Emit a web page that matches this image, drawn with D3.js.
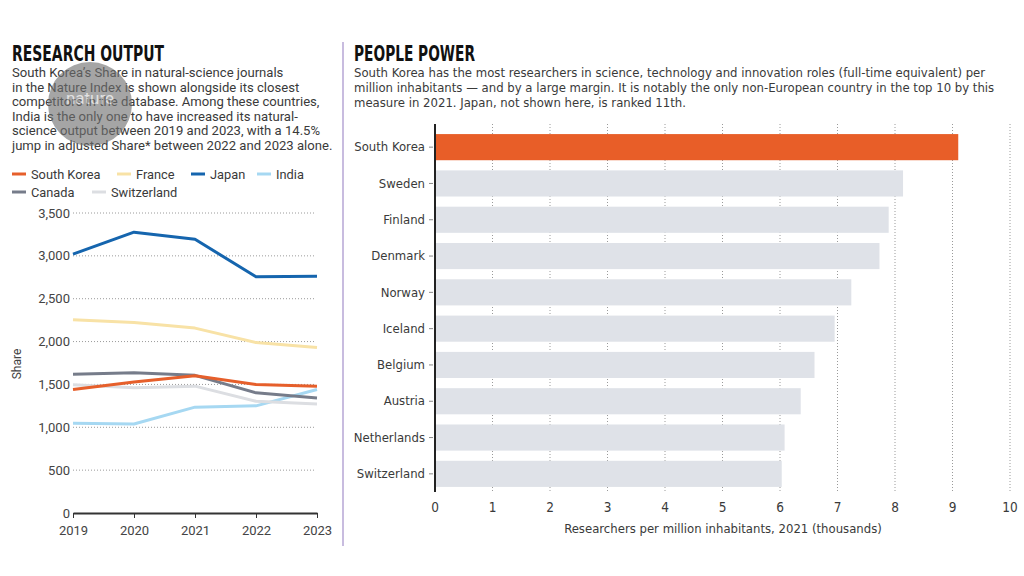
<!DOCTYPE html>
<html lang="en">
<head>
<meta charset="UTF-8">
<title>Research output and people power</title>
<script src="https://d3js.org/d3.v7.min.js"></script>
<style>
  body { margin: 0; background: #fff; }
  svg { display: block; }
  .para { font-family: Roboto, "Noto Sans", sans-serif; font-size: 13.1px; fill: #3a3a3a; }
  .cond { font-family: "Liberation Sans Narrow", "DejaVu Sans Condensed", sans-serif; fill: #3a3a3a; }
  .title { font-family: "Liberation Sans Narrow", "DejaVu Sans Condensed", sans-serif; font-weight: bold; font-size: 22px; fill: #111; }
  .tick-l { font-family: Roboto, "Noto Sans", sans-serif; font-size: 12.5px; fill: #444; }
</style>
</head>
<body>
<svg width="1024" height="576"></svg>
<script>
// ---- data: left panel (Share in natural-science journals) ----
const years = [2019, 2020, 2021, 2022, 2023];
const southKorea  = [1441, 1527, 1602, 1500, 1480];
const france      = [2254, 2222, 2157, 1988, 1930];
const japan       = [3020, 3276, 3193, 2757, 2763];
const india       = [1047, 1039, 1235, 1250, 1440];
const canada      = [1618, 1637, 1606, 1402, 1343];
const switzerland = [1495, 1460, 1480, 1304, 1273];
const shareTicks  = [0, 500, 1000, 1500, 2000, 2500, 3000, 3500];

// ---- data: right panel (researchers per million, thousands) ----
const countries   = ["South Korea", "Sweden", "Finland", "Denmark", "Norway", "Iceland", "Belgium", "Austria", "Netherlands", "Switzerland"];
const researchers = [9.10, 8.14, 7.89, 7.73, 7.24, 6.95, 6.60, 6.36, 6.08, 6.03];
const researcherTicks = [0, 1, 2, 3, 4, 5, 6, 7, 8, 9, 10];

const leftText = [
  "South Korea\u2019s Share in natural-science journals",
  "in the Nature Index is shown alongside its closest",
  "competitors in the database. Among these countries,",
  "India is the only one to have increased its natural-",
  "science output between 2019 and 2023, with a 14.5%",
  "jump in adjusted Share* between 2022 and 2023 alone."
];
const rightText = [
  "South Korea has the most researchers in science, technology and innovation roles (full-time equivalent) per",
  "million inhabitants \u2014 and by a large margin. It is notably the only non-European country in the top 10 by this",
  "measure in 2021. Japan, not shown here, is ranked 11th."
];

const series = [
  {name: "India",       values: india,       color: "#a6d8f2"},
  {name: "Switzerland", values: switzerland, color: "#dcdee2"},
  {name: "France",      values: france,      color: "#f8e2a6"},
  {name: "Canada",      values: canada,      color: "#767c8a"},
  {name: "South Korea", values: southKorea,  color: "#e65f2b"},
  {name: "Japan",       values: japan,       color: "#1565ae"}
];
const legendOrder = [
  {name: "South Korea", x: 12,  row: 0},
  {name: "France",      x: 117, row: 0},
  {name: "Japan",       x: 191, row: 0},
  {name: "India",       x: 257, row: 0},
  {name: "Canada",      x: 12,  row: 1},
  {name: "Switzerland", x: 92,  row: 1}
];

const svg = d3.select("svg");

// divider
svg.append("line")
   .attr("x1", 343).attr("x2", 343).attr("y1", 42).attr("y2", 546)
   .attr("stroke", "#b6a6d4").attr("stroke-width", 1.5);

// ================= LEFT PANEL =================
svg.append("text").attr("class", "title")
   .attr("x", 12).attr("y", 61)
   .attr("textLength", 152).attr("lengthAdjust", "spacingAndGlyphs")
   .text("RESEARCH OUTPUT");

svg.append("g").selectAll("text")
   .data(leftText).enter().append("text")
   .attr("class", "para")
   .attr("x", 12).attr("y", (d, i) => 77 + i * 14.6)
   .text(d => d);

// watermark
const wm = svg.append("g").attr("opacity", 0.62);
wm.append("circle").attr("cx", 90).attr("cy", 104).attr("r", 42).attr("fill", "#6f6f6f");
wm.append("text").attr("x", 90).attr("y", 104)
  .attr("text-anchor", "middle")
  .style("font-family", "Roboto, sans-serif").style("font-size", "17px")
  .attr("fill", "#cfcfcf").text("nature");

// legend
const leg = svg.append("g").selectAll("g")
   .data(legendOrder).enter().append("g")
   .attr("transform", d => `translate(${d.x},${174 + d.row * 18})`);
leg.append("line")
   .attr("x1", 0).attr("x2", 14).attr("y1", 0).attr("y2", 0)
   .attr("stroke-width", 3)
   .attr("stroke", d => series.find(s => s.name === d.name).color);
leg.append("text")
   .attr("class", "para").attr("x", 19).attr("y", 4.5)
   .style("font-size", "12.8px")
   .text(d => d.name);

const xL = d3.scaleLinear().domain([2019, 2023]).range([73, 317]);
const yL = d3.scaleLinear().domain([0, 3500]).range([513, 213]);

// grid
svg.append("g").selectAll("line")
   .data(shareTicks.filter(t => t > 0)).enter().append("line")
   .attr("x1", 73).attr("x2", 316)
   .attr("y1", d => yL(d)).attr("y2", d => yL(d))
   .attr("stroke", "#9a9a9a").attr("stroke-width", 1)
   .attr("stroke-dasharray", "1,2");

// y labels
svg.append("g").selectAll("text")
   .data(shareTicks).enter().append("text")
   .attr("class", "tick-l")
   .attr("x", 70).attr("y", d => yL(d) + 4.5)
   .attr("text-anchor", "end")
   .style("font-size", "13px")
   .text(d => d3.format(",")(d));

svg.append("text").attr("class", "tick-l")
   .attr("transform", "translate(21,364) rotate(-90)")
   .attr("text-anchor", "middle")
   .style("font-size", "12px")
   .text("Share");

// x axis
const xAxisL = svg.append("g")
   .attr("transform", `translate(0,${yL(0)})`)
   .call(d3.axisBottom(xL).tickValues(years).tickFormat(d3.format("d")).tickSize(5).tickSizeOuter(0));
xAxisL.select(".domain").attr("stroke", "#333").attr("stroke-width", 2);
xAxisL.selectAll(".tick line").attr("stroke", "#333");
xAxisL.selectAll(".tick text")
   .attr("class", "tick-l").attr("dy", "1.05em")
   .style("font-size", "13px");

// lines
const line = d3.line().x((d, i) => xL(years[i])).y(d => yL(d));
svg.append("g").selectAll("path")
   .data(series).enter().append("path")
   .attr("d", d => line(d.values))
   .attr("fill", "none")
   .attr("stroke", d => d.color)
   .attr("stroke-width", 3)
   .attr("stroke-linejoin", "round");

// ================= RIGHT PANEL =================
svg.append("text").attr("class", "title")
   .attr("x", 354).attr("y", 61)
   .attr("textLength", 121).attr("lengthAdjust", "spacingAndGlyphs")
   .text("PEOPLE POWER");

svg.append("g").selectAll("text")
   .data(rightText).enter().append("text")
   .attr("class", "cond")
   .style("font-size", "13px")
   .attr("x", 354).attr("y", (d, i) => 77 + i * 14.8)
   .text(d => d);

const xR = d3.scaleLinear().domain([0, 10]).range([435, 1010]);
const yR = d3.scaleBand().domain(countries).range([129, 492])
   .paddingInner(0.28).paddingOuter(0.14);

// grid
svg.append("g").selectAll("line")
   .data(researcherTicks.filter(t => t > 0)).enter().append("line")
   .attr("x1", d => xR(d)).attr("x2", d => xR(d))
   .attr("y1", 124).attr("y2", 492)
   .attr("stroke", "#9a9a9a").attr("stroke-width", 1)
   .attr("stroke-dasharray", "1,2");

// bars
svg.append("g").selectAll("rect")
   .data(countries).enter().append("rect")
   .attr("x", xR(0))
   .attr("y", d => yR(d))
   .attr("width", (d, i) => xR(researchers[i]) - xR(0))
   .attr("height", yR.bandwidth())
   .attr("fill", (d, i) => i === 0 ? "#e85e28" : "#dfe2e8");

// y axis
const yAxisR = svg.append("g")
   .attr("transform", `translate(${xR(0)},0)`)
   .call(d3.axisLeft(yR).tickSize(4).tickPadding(6).tickSizeOuter(0));
yAxisR.select(".domain").remove();
yAxisR.selectAll(".tick line").attr("stroke", "#888").attr("transform", "translate(-2,0)");
yAxisR.selectAll(".tick text").attr("class", "cond").style("font-size", "13px");

svg.append("line")
   .attr("x1", xR(0)).attr("x2", xR(0)).attr("y1", 124).attr("y2", 492)
   .attr("stroke", "#222").attr("stroke-width", 2);

// x labels
svg.append("g").selectAll("text")
   .data(researcherTicks).enter().append("text")
   .attr("class", "cond")
   .style("font-size", "13.5px")
   .attr("x", d => xR(d)).attr("y", 512)
   .attr("text-anchor", "middle")
   .text(d => d);

svg.append("text").attr("class", "cond")
   .style("font-size", "13px")
   .attr("x", 723).attr("y", 533)
   .attr("text-anchor", "middle")
   .text("Researchers per million inhabitants, 2021 (thousands)");
</script>
</body>
</html>
